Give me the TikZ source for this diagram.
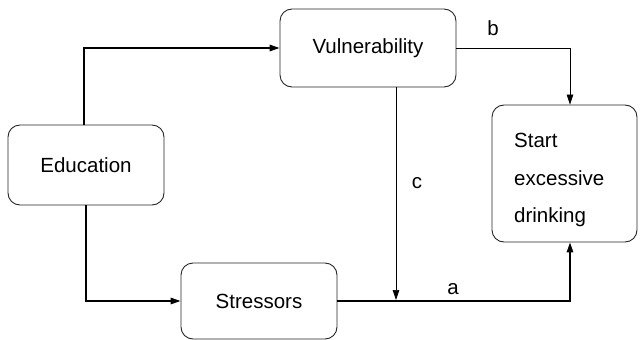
\documentclass[tikz,border=0pt]{standalone}
\usepackage{fontspec}
\setmainfont{Liberation Sans}
\usetikzlibrary{arrows.meta}
\begin{document}
\begin{tikzpicture}[x=1pt,y=-1pt,
  box/.style={draw=black!85,line width=0.9pt,rounded corners=12pt,inner sep=0pt,
    font=\fontsize{20.5pt}{24pt}\selectfont},
  lbl/.style={inner sep=0pt,font=\fontsize{20.5pt}{24pt}\selectfont},
  thickline/.style={line width=1.4pt,-{Triangle[length=10pt,width=6.5pt]}},
  thinline/.style={line width=0.7pt,-{Triangle[length=10pt,width=6.5pt]}}]
\useasboundingbox (0,0) rectangle (640,340);
\node[box,minimum width=156pt,minimum height=80pt] (edu) at (86,165) {Education};
\node[box,minimum width=176pt,minimum height=78pt] (vul) at (368,48) {Vulnerability};
\node[box,minimum width=156pt,minimum height=76pt] (str) at (259,301) {Stressors};
\node[box,minimum width=145pt,minimum height=137pt] (start) at (564.5,173.5) {};
\node[lbl,align=left,anchor=west,font=\fontsize{20.5pt}{37.5pt}\selectfont] (starttxt) at (514,180) {Start\\excessive\\drinking};
\coordinate (cend) at (396,300);
\draw[thickline] ([xshift=-2pt]edu.north) |- (vul.west);
\draw[thickline] (edu.south) |- (str.west);
\draw[thinline] (vul.east) -| ([xshift=5.5pt]start.north);
\draw[thinline] (vul.south -| cend) -- (cend);
\draw[thickline] (str.east) -| ([xshift=5.5pt]start.south);
\node[lbl] (la) at (453,289) {a};
\node[lbl] (lb) at (493,28) {b};
\node[lbl] (lc) at (417,183) {c};
\end{tikzpicture}
\end{document}
